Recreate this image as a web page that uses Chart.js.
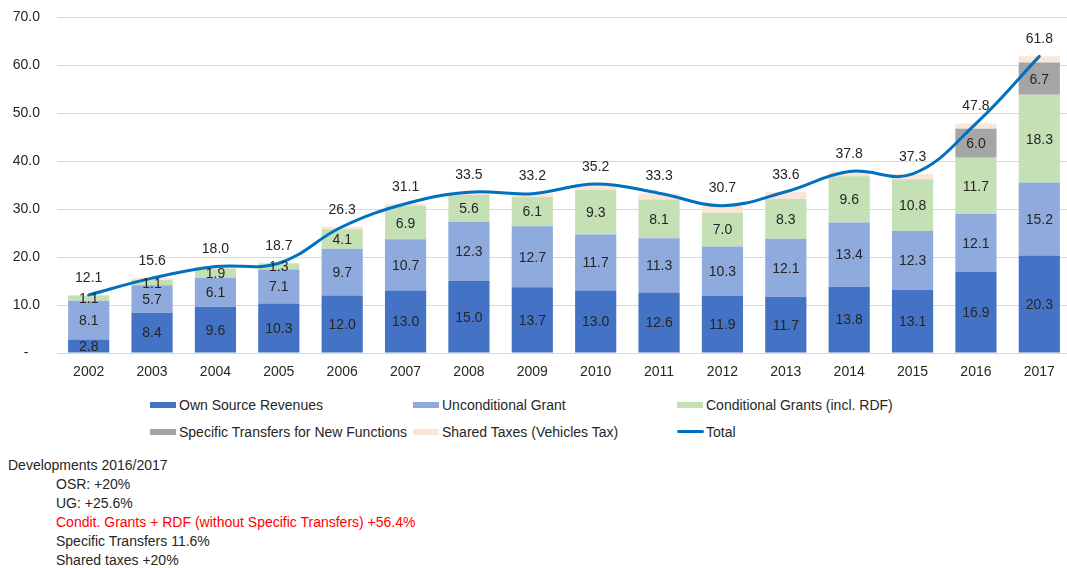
<!DOCTYPE html>
<html>
<head>
<meta charset="utf-8">
<script src="https://cdn.jsdelivr.net/npm/chart.js@4.4.1/dist/chart.umd.min.js"></script>
<style>
  html, body { margin: 0; padding: 0; overflow: hidden; background: #fff; width: 1067px; height: 568px; }
  #wrap { position: absolute; left: 0; top: 0; width: 1071px; height: 390px; }
  .txt { position: absolute; font-family: "Liberation Sans", Arial, sans-serif; font-size: 14px; color: #262626; white-space: nowrap; line-height: 16px; }
  .lg-item { position: absolute; font-family: "Liberation Sans", Arial, sans-serif; font-size: 14px; color: #262626; white-space: nowrap; line-height: 16px; }
  .lg-box { position: absolute; left: 0; top: 5px; width: 26px; height: 6px; }
  .lg-line { position: absolute; left: 0; top: 6px; width: 27px; height: 3px; border-radius: 2px; }
  .lg-label { position: absolute; left: 29px; top: 0; }
</style>
</head>
<body>
<div id="wrap"><canvas id="c" width="1071" height="390"></canvas></div>
<div id="legend"></div>
<div id="notes"></div>
<script>
// ---- data ----
const years = ['2002','2003','2004','2005','2006','2007','2008','2009','2010','2011','2012','2013','2014','2015','2016','2017'];
const ownSource = [2.8, 8.4, 9.6, 10.3, 12.0, 13.0, 15.0, 13.7, 13.0, 12.6, 11.9, 11.7, 13.8, 13.1, 16.9, 20.3];
const unconditional = [8.1, 5.7, 6.1, 7.1, 9.7, 10.7, 12.3, 12.7, 11.7, 11.3, 10.3, 12.1, 13.4, 12.3, 12.1, 15.2];
const conditional = [1.1, 1.1, 1.9, 1.3, 4.1, 6.9, 5.6, 6.1, 9.3, 8.1, 7.0, 8.3, 9.6, 10.8, 11.7, 18.3];
const specific = [0, 0, 0, 0, 0, 0, 0, 0, 0, 0, 0, 0, 0, 0, 6.0, 6.7];
const sharedTaxes = [0.1, 0.4, 0.4, 0.0, 0.5, 0.5, 0.6, 0.7, 1.2, 1.3, 1.5, 1.5, 1.0, 1.1, 1.1, 1.3];
const total = [12.1, 15.6, 18.0, 18.7, 26.3, 31.1, 33.5, 33.2, 35.2, 33.3, 30.7, 33.6, 37.8, 37.3, 47.8, 61.8];
const yTicks = [0, 10, 20, 30, 40, 50, 60, 70];
const notesTitle = 'Developments 2016/2017';
const notes = [
  { text: 'OSR: +20%', red: false },
  { text: 'UG: +25.6%', red: false },
  { text: 'Condit. Grants + RDF (without Specific Transfers) +56.4%', red: true },
  { text: 'Specific Transfers 11.6%', red: false },
  { text: 'Shared taxes +20%', red: false }
];

const FONT = '"Liberation Sans", Arial, sans-serif';
const TXT = '#262626';
Chart.defaults.font.family = FONT;
Chart.defaults.font.size = 14;
Chart.defaults.color = TXT;

const labelPlugin = {
  id: 'valueLabels',
  afterDatasetsDraw(chart) {
    const ctx = chart.ctx;
    ctx.save();
    ctx.font = '14px ' + FONT;
    ctx.fillStyle = TXT;
    ctx.textAlign = 'center';
    ctx.textBaseline = 'middle';
    chart.data.datasets.forEach((ds, i) => {
      if (!ds.segmentLabels) return;
      const meta = chart.getDatasetMeta(i);
      meta.data.forEach((el, j) => {
        const v = ds.data[j];
        if (!v) return;
        ctx.fillText(v.toFixed(1), el.x, (el.y + el.base) / 2 + 1);
      });
    });
    const li = chart.data.datasets.findIndex(d => d.type === 'line');
    const lm = chart.getDatasetMeta(li);
    lm.data.forEach((pt, j) => {
      ctx.fillText(total[j].toFixed(1), pt.x, pt.y - 17);
    });
    ctx.restore();
  }
};

const datasets = [
  { type: 'line', label: 'Total', data: total, borderColor: '#0070C0', backgroundColor: '#0070C0', borderWidth: 3, pointRadius: 0, pointHoverRadius: 0, tension: 0.4, order: 0, stack: 'totalLine', borderCapStyle: 'round' },
  { label: 'Own Source Revenues', data: ownSource, backgroundColor: '#4472C4', order: 1, stack: 's', segmentLabels: true },
  { label: 'Unconditional Grant', data: unconditional, backgroundColor: '#8FAADC', order: 1, stack: 's', segmentLabels: true },
  { label: 'Conditional Grants (incl. RDF)', data: conditional, backgroundColor: '#C5E0B4', order: 1, stack: 's', segmentLabels: true },
  { label: 'Specific Transfers for New Functions', data: specific, backgroundColor: '#A5A5A5', order: 1, stack: 's', segmentLabels: true },
  { label: 'Shared Taxes (Vehicles Tax)', data: sharedTaxes, backgroundColor: '#FBE5D6', order: 1, stack: 's', segmentLabels: false }
];

const chart = new Chart(document.getElementById('c'), {
  type: 'bar',
  data: { labels: years, datasets: datasets },
  options: {
    responsive: false,
    animation: false,
    devicePixelRatio: 1,
    layout: { padding: { top: 17, left: 0, right: 0, bottom: 0 } },
    datasets: { bar: { categoryPercentage: 1.0, barPercentage: 0.65 } },
    plugins: { legend: { display: false }, tooltip: { enabled: false } },
    scales: {
      x: {
        stacked: true,
        grid: { display: false },
        border: { display: false },
        ticks: { color: TXT, padding: 3, font: { size: 14 } },
        afterFit(s) { s.height = 37; }
      },
      y: {
        stacked: true,
        min: 0, max: 70,
        afterBuildTicks(s) { s.ticks = yTicks.map(v => ({ value: v })); },
        grid: { color: '#D9D9D9', lineWidth: 1, drawTicks: true, tickLength: 12, tickColor: 'rgba(0,0,0,0)' },
        border: { display: false },
        ticks: {
          color: TXT, padding: 5, font: { size: 14 },
          callback: v => v === 0 ? '-   ' : Number(v).toFixed(1)
        },
        afterFit(s) { s.width = 57; }
      }
    }
  },
  plugins: [labelPlugin]
});

// ---- HTML legend built from the chart datasets ----
const legendOrder = [1, 2, 3, 4, 5, 0];
const colX = [150, 413, 677];
const rowY = [397, 424];
const lg = document.getElementById('legend');
legendOrder.forEach((di, k) => {
  const ds = chart.data.datasets[di];
  const item = document.createElement('div');
  item.className = 'lg-item';
  item.style.left = colX[k % 3] + 'px';
  item.style.top = rowY[Math.floor(k / 3)] + 'px';
  const mark = document.createElement('div');
  if (ds.type === 'line') { mark.className = 'lg-line'; mark.style.background = ds.borderColor; }
  else { mark.className = 'lg-box'; mark.style.background = ds.backgroundColor; }
  const lab = document.createElement('div');
  lab.className = 'lg-label';
  lab.textContent = ds.label;
  item.appendChild(mark); item.appendChild(lab);
  lg.appendChild(item);
});

// ---- notes ----
const nt = document.getElementById('notes');
const t0 = document.createElement('div');
t0.className = 'txt'; t0.style.left = '8px'; t0.style.top = '457px'; t0.textContent = notesTitle;
nt.appendChild(t0);
notes.forEach((n, i) => {
  const d = document.createElement('div');
  d.className = 'txt';
  d.style.left = '56px';
  d.style.top = (476 + i * 19) + 'px';
  if (n.red) d.style.color = '#FF0000';
  d.textContent = n.text;
  nt.appendChild(d);
});
</script>
</body>
</html>
